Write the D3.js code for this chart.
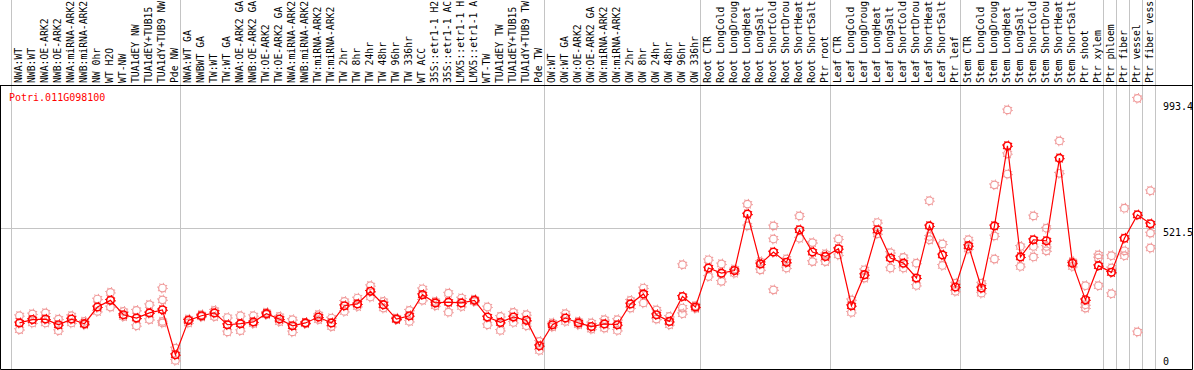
<!DOCTYPE html>
<html>
<head>
<meta charset="utf-8">
<script src="https://cdn.jsdelivr.net/npm/d3@7"></script>
<style>
  body { margin: 0; background: #fff; }
  svg { display: block; }
  text { font-family: "DejaVu Sans Mono", monospace; font-size: 10px; }
</style>
</head>
<body>
<svg id="chart" width="1194" height="370"></svg>
<script>
// sample names, in plotting order
const samples = [
  "NWA:WT","NWB:WT","NWA:OE-ARK2","NWB:OE-ARK2","NWA:miRNA-ARK2","NWB:miRNA-ARK2","NW 0hr","WT H2O","WT-NW","TUA1dEY NW","TUA1dEY+TUB15 NW","TUA1dY+TUB9 NW","Pde NW",
  "NWA:WT GA","NWBWT GA","TW:WT","TW:WT GA","NWA:OE-ARK2 GA","NWB:OE-ARK2 GA","TW:OE-ARK2","TW:OE-ARK2 GA","NWA:miRNA-ARK2 GA","NWB:miRNA-ARK2 GA","TW:miRNA-ARK2","TW:miRNA-ARK2 GA",
  "TW 2hr","TW 8hr","TW 24hr","TW 48hr","TW 96hr","TW 336hr","WT ACC","35S::etr1-1 H2O","35S::etr1-1 ACC","LMX5::etr1-1 H2O","LMX5::etr1-1 ACC","WT-TW","TUA1dEY TW","TUA1dEY+TUB15 TW","TUA1dY+TUB9 TW","Pde TW",
  "OW:WT","OW:WT GA","OW:OE-ARK2","OW:OE-ARK2 GA","OW:miRNA-ARK2","OW:miRNA-ARK2 GA","OW 2hr","OW 8hr","OW 24hr","OW 48hr","OW 96hr","OW 336hr",
  "Root CTR","Root LongCold","Root LongDrought","Root LongHeat","Root LongSalt","Root ShortCold","Root ShortDrought","Root ShortHeat","Root ShortSalt","Ptr root",
  "Leaf CTR","Leaf LongCold","Leaf LongDrought","Leaf LongHeat","Leaf LongSalt","Leaf ShortCold","Leaf ShortDrought","Leaf ShortHeat","Leaf ShortSalt","Ptr leaf",
  "Stem CTR","Stem LongCold","Stem LongDrought","Stem LongHeat","Stem LongSalt","Stem ShortCold","Stem ShortDrought","Stem ShortHeat","Stem ShortSalt","Ptr shoot","Ptr xylem",
  "Ptr phloem","Ptr fiber","Ptr vessel","Ptr fiber vessel"
];

// index where each group starts (last = end)
const groupBreaks = [0, 13, 41, 53, 63, 73, 84, 85, 86, 87, 88];

// mean expression per sample
const means = [
  151, 164, 166, 144, 166, 148, 213, 239, 183, 170, 190, 202, 27,
  161, 179, 190, 144, 148, 155, 187, 166, 140, 151, 174, 151,
  218, 225, 274, 222, 166, 179, 261, 229, 232, 229, 239, 174, 153, 174, 161, 62,
  144, 170, 151, 137, 147, 144, 225, 264, 183, 157, 254, 213,
  365, 345, 355, 575, 381, 427, 387, 514, 427, 410,
  440, 218, 339, 514, 404, 384, 326, 529, 416, 291,
  452, 287, 529, 841, 408, 475, 471, 793, 384, 241, 374,
  348, 481, 572, 537
];

// individual replicates per sample
const reps = [
  [179, 125], [186, 151], [190, 151], [166, 121], [179, 151], [157, 144], [244, 196], [270, 213], [196, 176], [200, 140], [222, 164], [287, 241, 157, 151], [53, 5],
  [166, 151], [183, 175], [200, 176], [172, 116], [179, 121], [179, 148], [192, 183], [176, 156], [164, 116], [153, 148], [183, 164], [170, 137],
  [235, 196], [248, 215], [296, 252], [235, 209], [170, 164], [200, 157], [284, 239], [235, 218], [267, 193], [248, 215], [243, 234], [213, 144], [176, 122], [192, 153], [183, 140], [79, 44],
  [151, 136], [187, 157], [157, 144], [151, 127], [164, 131], [164, 122], [239, 209], [287, 229], [202, 166], [176, 144], [378, 209, 187], [218, 208],
  [397, 332], [381, 313], [361, 345], [614, 529], [390, 358], [529, 478, 280], [400, 365], [568, 481], [464, 390], [420, 390],
  [478, 416], [241, 192], [358, 326], [542, 498], [425, 365], [406, 365], [384, 297], [627, 488, 475], [459, 375], [306, 274],
  [475, 439], [306, 267], [689, 490, 400], [981, 810, 731], [449, 371], [568, 449, 408], [520, 449, 432], [860, 734], [390, 371], [296, 222, 209], [416, 404, 296],
  [413, 365, 265], [598, 432, 413], [1026, 116], [666, 501, 443]
];

const yTicks = [0, 521.5, 993.4];
const geneId = "Potri.011G098100";
const maxLabelChars = 14;   // the header only has room for 14 characters

const width = 1194, height = 370;
const headerY = 85;
const svg = d3.select("#chart");

const x = d3.scaleLinear().domain([0, samples.length]).range([11, 1155]);
const y = d3.scaleLinear().domain([0, 993.4]).range([361.7, 106.7]);

// vertical group separators, through the label area too
svg.append("g").selectAll("line")
  .data(groupBreaks)
  .join("line")
  .attr("x1", d => Math.round(x(d)) + 0.5)
  .attr("x2", d => Math.round(x(d)) + 0.5)
  .attr("y1", 0)
  .attr("y2", height)
  .attr("stroke", "#c4c4c4");

// mid grid line
svg.append("line")
  .attr("x1", 1).attr("x2", x(samples.length))
  .attr("y1", Math.round(y(521.5)) + 0.5).attr("y2", Math.round(y(521.5)) + 0.5)
  .attr("stroke", "#c4c4c4");

// frame
svg.append("path")
  .attr("d", `M0.5,${headerY + 0.5}H${width - 1.5}M0.5,${headerY}V${height - 0.5}H${width - 1.5}V0`)
  .attr("fill", "none")
  .attr("stroke", "#000");

// sample labels, rotated, cut to what fits
svg.append("g").selectAll("text")
  .data(samples)
  .join("text")
  .attr("transform", (d, i) => `translate(${x(i + 0.56)},83) rotate(-90)`)
  .attr("dy", "0.35em")
  .style("font-size", "9.75px")
  .attr("fill", "#000")
  .text(d => d.slice(0, maxLabelChars));

// gene title
svg.append("text")
  .attr("x", 9).attr("y", 101)
  .attr("fill", "#ff0000")
  .text(geneId);

// right axis
const yAxis = d3.axisRight(y).tickValues(yTicks).tickSize(0).tickPadding(8)
  .tickFormat(d => d === 0 ? "0" : d3.format(".1f")(d));
const ax = svg.append("g")
  .attr("transform", `translate(${x(samples.length)},0)`)
  .call(yAxis);
ax.select(".domain").remove();
ax.selectAll("text")
  .style("font-family", "'DejaVu Sans Mono', monospace")
  .style("font-size", "10px")
  .attr("fill", "#000")
  .attr("dy", d => d === 521.5 ? "0.75em" : "0.32em");

const px = i => x(i + 0.65);

// a circle with little spikes, like the original markers
function marker(g, cx, cy, color, sw) {
  g.append("circle").attr("cx", cx).attr("cy", cy).attr("r", 3.8)
    .attr("fill", "none").attr("stroke", color).attr("stroke-width", sw);
  g.append("circle").attr("cx", cx).attr("cy", cy).attr("r", 4.8)
    .attr("fill", "none").attr("stroke", color).attr("stroke-width", 1.2)
    .attr("stroke-dasharray", "1 2.77");
}

// replicates
const repG = svg.append("g");
reps.forEach((r, i) => {
  r.forEach(v => marker(repG, px(i), y(v), "#f09a9a", 1.2));
});

// mean line
svg.append("path")
  .datum(means)
  .attr("d", d3.line().x((d, i) => px(i)).y(d => y(d)))
  .attr("fill", "none")
  .attr("stroke", "#ff0000")
  .attr("stroke-width", 1.2);

// means
const meanG = svg.append("g");
means.forEach((v, i) => marker(meanG, px(i), y(v), "#ff0000", 1.6));
</script>
</body>
</html>
